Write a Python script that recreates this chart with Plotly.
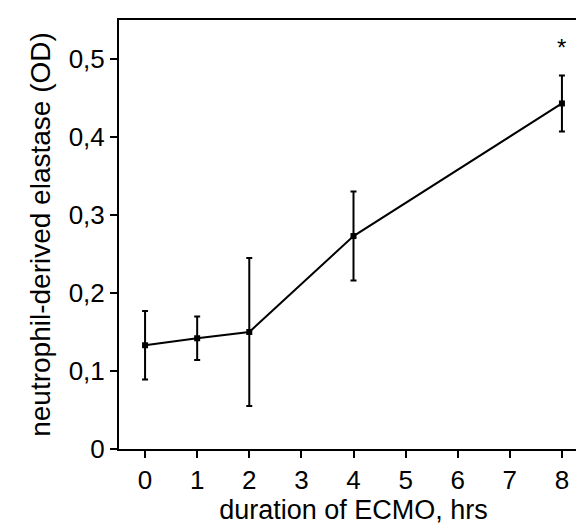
import plotly.graph_objects as go

hours = [0, 1, 2, 4, 8]
elastase = [0.133, 0.142, 0.150, 0.273, 0.443]
elastase_err = [0.044, 0.028, 0.095, 0.057, 0.036]
x_ticks = [0, 1, 2, 3, 4, 5, 6, 7, 8]
y_ticks = [0, 0.1, 0.2, 0.3, 0.4, 0.5]
star_x = 8
star_y = 0.515

font_family = "Liberation Sans, Arial, sans-serif"

fig = go.Figure()
fig.add_trace(go.Scatter(
    x=hours, y=elastase,
    mode="lines+markers",
    line=dict(color="black", width=2),
    marker=dict(symbol="square", size=6, color="black"),
    error_y=dict(type="data", array=elastase_err, visible=True,
                 color="black", thickness=2, width=3),
    showlegend=False,
))

fig.add_annotation(x=star_x, y=star_y, text="*", showarrow=False,
                   font=dict(size=24, color="black", family=font_family))

fig.update_layout(
    width=584, height=527,
    margin=dict(l=111, r=2, t=12, b=86),
    paper_bgcolor="white", plot_bgcolor="white",
    separators=",.",
    font=dict(family=font_family, color="black", size=26),
    xaxis=dict(
        range=[-0.5, 8.5], tickvals=x_ticks,
        ticks="outside", ticklen=7, tickwidth=2, tickcolor="black",
        showline=True, linewidth=2, linecolor="black", mirror=True,
        showgrid=False, zeroline=False,
        tickfont=dict(size=26),
        title=dict(text="duration of ECMO, hrs", font=dict(size=27), standoff=2),
    ),
    yaxis=dict(
        range=[0, 0.55], tickvals=y_ticks,
        ticks="outside", ticklen=7, tickwidth=2, tickcolor="black",
        showline=True, linewidth=2, linecolor="black", mirror=True,
        showgrid=False, zeroline=False,
        tickfont=dict(size=26),
        title=dict(text="neutrophil-derived elastase (OD)", font=dict(size=28), standoff=10),
    ),
)

fig.write_html("out.html")
